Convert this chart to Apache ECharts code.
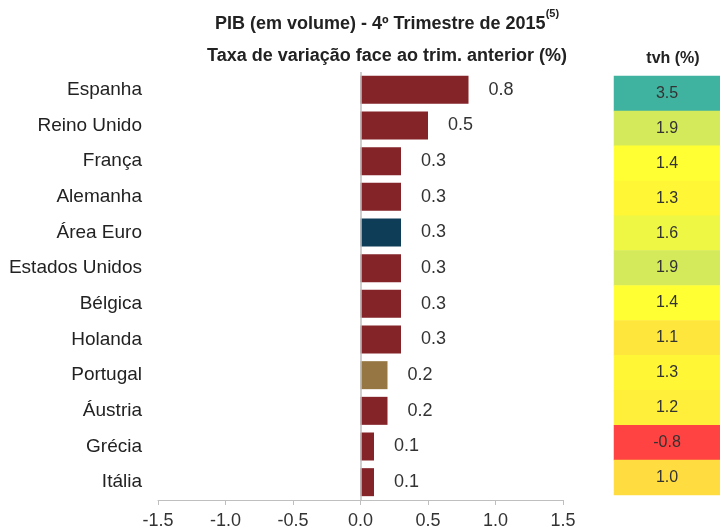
<!DOCTYPE html>
<html><head><meta charset="utf-8">
<script src="https://cdn.jsdelivr.net/npm/echarts@6/dist/echarts.min.js"></script>
<style>html,body{margin:0;padding:0;background:#fff}#c{width:720px;height:530px}</style>
</head><body><div id="c"></div>
<script>
const categories = ['Espanha','Reino Unido','França','Alemanha','Área Euro','Estados Unidos','Bélgica','Holanda','Portugal','Áustria','Grécia','Itália'];
const qoqValues = [0.8, 0.5, 0.3, 0.3, 0.3, 0.3, 0.3, 0.3, 0.2, 0.2, 0.1, 0.1];
const tvhValues = [3.5, 1.9, 1.4, 1.3, 1.6, 1.9, 1.4, 1.1, 1.3, 1.2, -0.8, 1.0];
const xTicks = [-1.5, -1.0, -0.5, 0.0, 0.5, 1.0, 1.5];

const FONT = '"Liberation Sans", Arial, sans-serif';
const barColor = function (p) {
  if (p.name === 'Área Euro') return '#0E3D58';
  if (p.name === 'Portugal') return '#967744';
  return '#842328';
};
const stops = [[-0.8,[255,66,66]],[1.0,[255,221,64]],[1.4,[255,255,51]],[1.9,[212,234,90]],[3.5,[64,179,160]]];
function heatColor(v){
  if (v <= stops[0][0]) return 'rgb(' + stops[0][1].join(',') + ')';
  for (let i = 1; i < stops.length; i++) {
    if (v <= stops[i][0]) {
      const t = (v - stops[i-1][0]) / (stops[i][0] - stops[i-1][0]);
      const c = stops[i-1][1].map((a, k) => Math.round(a + (stops[i][1][k] - a) * t));
      return 'rgb(' + c.join(',') + ')';
    }
  }
  return 'rgb(' + stops[stops.length-1][1].join(',') + ')';
}

const chart = echarts.init(document.getElementById('c'));
chart.setOption({
  animation: false,
  textStyle: { fontFamily: FONT },
  title: [{
    left: 382, top: 3, textAlign: 'center',
    text: '{a|PIB (em volume) - 4º Trimestre de 2015}{s|(5)}\n{a|Taxa de variação face ao trim. anterior (%)}',
    textStyle: {
      rich: {
        a: { fontFamily: FONT, fontWeight: 'bold', fontSize: 18, color: '#222', lineHeight: 32 },
        s: { fontFamily: FONT, fontWeight: 'bold', fontSize: 11, color: '#222', verticalAlign: 'top', lineHeight: 32, padding: [0,0,8,0] }
      }
    }
  }, {
    left: 668, top: 46, textAlign: 'center',
    text: 'tvh (%)',
    textStyle: { fontFamily: FONT, fontWeight: 'bold', fontSize: 16, color: '#222' }
  }],
  grid: [
    { left: 158, right: 157, top: 72, bottom: 29 },
    { left: 614, right: 0, top: 76, bottom: 35 }
  ],
  xAxis: [{
    gridIndex: 0, type: 'value', min: xTicks[0], max: xTicks[xTicks.length-1], interval: 0.5,
    axisLine: { show: true, onZero: false, lineStyle: { color: '#BFBFBF', width: 1 } },
    axisTick: { show: true, length: 5, lineStyle: { color: '#BFBFBF' } },
    splitLine: { show: false },
    axisLabel: { fontSize: 18, color: '#333', margin: 12, formatter: v => v.toFixed(1) }
  }, {
    gridIndex: 1, type: 'category', data: ['tvh'], show: false
  }],
  yAxis: [{
    gridIndex: 0, type: 'category', data: categories, inverse: true,
    axisLine: { show: false }, axisTick: { show: false },
    axisLabel: { fontSize: 19, color: '#222', margin: 16 }
  }, {
    gridIndex: 1, type: 'category', data: categories, inverse: true, show: false
  }],
  series: [{
    type: 'bar', xAxisIndex: 0, yAxisIndex: 0,
    data: qoqValues, barWidth: 28,
    itemStyle: { color: barColor },
    label: { show: true, position: 'right', distance: 20, fontSize: 18, color: '#333', formatter: p => p.value.toFixed(1) },
    markLine: {
      silent: true, symbol: 'none', label: { show: false },
      lineStyle: { color: '#BFBFBF', width: 1.5, type: 'solid' },
      data: [{ xAxis: 0 }]
    }
  }, {
    type: 'heatmap', xAxisIndex: 1, yAxisIndex: 1,
    data: tvhValues.map((v, i) => [0, i, v]),
    itemStyle: { color: p => heatColor(p.value[2]) },
    label: { show: true, fontSize: 16, color: '#333', formatter: p => p.value[2].toFixed(1) }
  }]
});
</script>
</body></html>
